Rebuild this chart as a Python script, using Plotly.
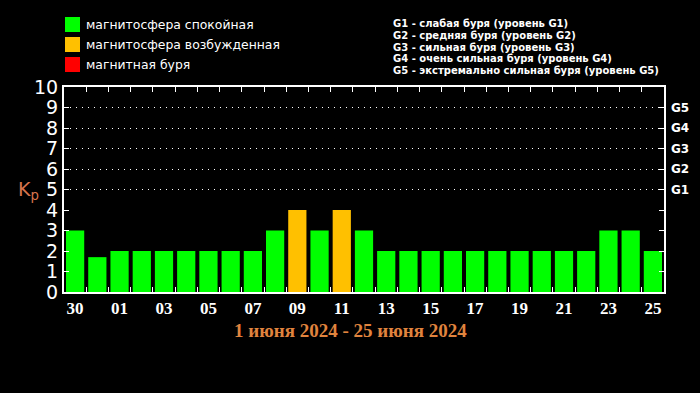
import plotly.graph_objects as go

days = ["30", "31", "01", "02", "03", "04", "05", "06", "07", "08", "09", "10", "11", "12",
        "13", "14", "15", "16", "17", "18", "19", "20", "21", "22", "23", "24", "25"]
kp = [3, 1.7, 2, 2, 2, 2, 2, 2, 2, 3, 4, 3, 4, 3,
      2, 2, 2, 2, 2, 2, 2, 2, 2, 2, 3, 3, 2]
tick_days = days[::2]
kp_ticks = list(range(0, 11))
g_levels = [5, 6, 7, 8, 9]
g_labels = ["G1", "G2", "G3", "G4", "G5"]
legend_labels = ["магнитосфера спокойная", "магнитосфера возбужденная", "магнитная буря"]
legend_colors = ["#00ff00", "#ffc000", "#ff0000"]
g_desc = ["G1 - слабая буря (уровень G1)",
          "G2 - средняя буря (уровень G2)",
          "G3 - сильная буря (уровень G3)",
          "G4 - очень сильная буря (уровень G4)",
          "G5 - экстремально сильная буря (уровень G5)"]
title_text = "1 июня 2024 - 25 июня 2024"


def color_for(v):
    if v >= 5:
        return legend_colors[2]
    if v >= 4:
        return legend_colors[1]
    return legend_colors[0]


fig = go.Figure()
fig.add_trace(go.Bar(x=days, y=kp, marker=dict(color=[color_for(v) for v in kp], line=dict(width=0)),
                     showlegend=False, hoverinfo="skip"))
# invisible trace to activate secondary axes
fig.add_trace(go.Scatter(x=[0], y=[0], xaxis="x2", yaxis="y2", mode="markers",
                         marker=dict(opacity=0), showlegend=False, hoverinfo="skip"))

W, H = 700, 393
L, R, T, B = 64, 36, 87, 101
PW, PH = W - L - R, H - T - B


def px(x):
    return (x - L) / PW


def py(y):
    return 1 - (y - T) / PH


fig.update_layout(
    width=W, height=H,
    margin=dict(l=L, r=R, t=T, b=B, pad=0),
    paper_bgcolor="black", plot_bgcolor="black",
    bargap=0.18,
    xaxis=dict(type="category", categoryorder="array", categoryarray=days,
               range=[-0.5, len(days) - 0.5],
               tickmode="array", tickvals=tick_days, ticktext=tick_days,
               ticks="", showgrid=False, zeroline=False,
               showline=True, linecolor="white", linewidth=2, mirror=True,
               tickfont=dict(family="Liberation Serif", size=17, color="white", weight="bold"),
               ticklabelstandoff=0),
    xaxis2=dict(overlaying="x", range=[-0.5, len(days) - 0.5],
                tickmode="array", tickvals=[i + 0.5 for i in range(len(days) - 1)],
                ticks="inside", ticklen=5, tickwidth=1, tickcolor="white", mirror="ticks",
                showticklabels=False, showgrid=False, zeroline=False, showline=False),
    yaxis=dict(range=[0, 10], tickmode="array", tickvals=kp_ticks,
               ticktext=[str(v) for v in kp_ticks],
               ticks="inside", ticklen=5, tickwidth=1, tickcolor="white", mirror="ticks",
               showgrid=False, zeroline=False,
               showline=True, linecolor="white", linewidth=2,
               tickfont=dict(family="DejaVu Sans", size=19, color="white"),
               ticklabelstandoff=0),
    yaxis2=dict(overlaying="y", side="right", range=[0, 10], tickmode="array",
                tickvals=g_levels, ticktext=g_labels, ticks="",
                showgrid=True, gridcolor="white", griddash="1px,5px", gridwidth=1,
                zeroline=False, showline=False,
                tickfont=dict(family="DejaVu Sans", size=12, color="white", weight="bold"),
                ticklabelstandoff=6),
)

shapes = []
annotations = []
for i, (lab, col) in enumerate(zip(legend_labels, legend_colors)):
    y0 = 17 + i * 20
    shapes.append(dict(type="rect", xref="paper", yref="paper",
                       x0=px(65), x1=px(80), y0=py(y0), y1=py(y0 + 15),
                       fillcolor=col, line=dict(width=0)))
    annotations.append(dict(xref="paper", yref="paper",
                            x=px(84), y=py(y0 + 7.5),
                            xanchor="left", yanchor="middle", showarrow=False, text=lab,
                            font=dict(family="DejaVu Sans", size=12.4, color="white")))
for i, txt in enumerate(g_desc):
    yc = 23.5 + i * 11.8
    annotations.append(dict(xref="paper", yref="paper",
                            x=px(391), y=py(yc),
                            xanchor="left", yanchor="middle", showarrow=False, text=txt,
                            font=dict(family="DejaVu Sans", size=10, color="white", weight="bold")))
annotations.append(dict(xref="paper", yref="paper",
                        x=px(28), y=py(190),
                        xanchor="center", yanchor="middle", showarrow=False,
                        text="K<sub>p</sub>",
                        font=dict(family="DejaVu Sans", size=19, color="#d8744c")))
annotations.append(dict(xref="paper", yref="paper",
                        x=px(350), y=py(330),
                        xanchor="center", yanchor="middle", showarrow=False,
                        text=title_text,
                        font=dict(family="Liberation Serif", size=19, color="#e0843e", weight="bold")))
fig.update_layout(shapes=shapes, annotations=annotations)

fig.write_html("out.html",
               config={"displayModeBar": False},
               post_script="document.body.style.margin='0';document.body.style.background='black';"
                           "document.body.style.overflow='hidden';")
